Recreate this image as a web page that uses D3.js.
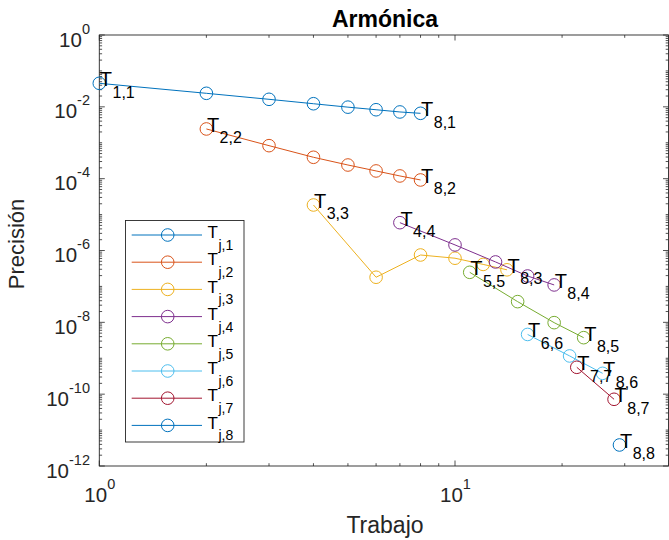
<!DOCTYPE html>
<html>
<head>
<meta charset="utf-8">
<script src="https://cdn.jsdelivr.net/npm/d3@7"></script>
<style>
  html, body { margin: 0; padding: 0; background: #fff; }
  svg { display: block; font-family: "Liberation Sans", Arial, Helvetica, sans-serif; }
</style>
</head>
<body>
<svg id="chart" width="669" height="540"></svg>
<script>
// ---- Data ----
const chartTitle = "Armónica";
const xLabel = "Trabajo";
const yLabel = "Precisión";

const work1 = [1, 2, 3, 4, 5, 6, 7, 8];
const prec1 = [4.52e-2, 2.38e-2, 1.62e-2, 1.22e-2, 9.8e-3, 8.3e-3, 7.2e-3, 6.6e-3];
const work2 = [2, 3, 4, 5, 6, 7, 8];
const prec2 = [2.42e-3, 8.3e-4, 3.94e-4, 2.40e-4, 1.64e-4, 1.19e-4, 9.2e-5];
const work3 = [4, 6, 8, 10, 12, 14];
const prec3 = [1.85e-5, 1.8e-7, 7.5e-7, 6.1e-7, 4.1e-7, 2.9e-7];
const work4 = [7, 10, 13, 16, 19];
const prec4 = [5.95e-6, 1.43e-6, 4.8e-7, 1.95e-7, 1.1e-7];
const work5 = [11, 15, 19, 23];
const prec5 = [2.47e-7, 3.77e-8, 9.8e-9, 3.74e-9];
const work6 = [16, 21, 26];
const prec6 = [4.6e-9, 1.16e-9, 3.8e-10];
const work7 = [22, 28];
const prec7 = [5.6e-10, 7.2e-11];
const work8 = [29];
const prec8 = [3.85e-12];

const seriesNames = ["j,1", "j,2", "j,3", "j,4", "j,5", "j,6", "j,7", "j,8"];
const colors = ["#0072BD", "#D95319", "#EDB120", "#7E2F8E", "#77AC30", "#4DBEEE", "#A2142F", "#0072BD"];
const yTickExps = [0, -2, -4, -6, -8, -10, -12];
const xTickExps = [0, 1];
const xDomain = [1, 40];
const yDomain = [1e-12, 1];

const works = [work1, work2, work3, work4, work5, work6, work7, work8];
const precs = [prec1, prec2, prec3, prec4, prec5, prec6, prec7, prec8];
const series = works.map((w, i) => ({
  k: i + 1,
  name: seriesNames[i],
  color: colors[i],
  pts: w.map((x, j) => ({ x: x, y: precs[i][j] }))
}));

// ---- Layout ----
const L = 99.3, R = 668.5, T = 35, B = 466;
const svg = d3.select("#chart");
const x = d3.scaleLog().domain(xDomain).range([L, L + Math.log10(40) * 355.7]);
const y = d3.scaleLog().domain(yDomain).range([B, T]);
const axisColor = "#262626";

svg.append("rect").attr("width", 669).attr("height", 540).attr("fill", "#fff");

// ---- ticks ----
const majLen = 5.5, minLen = 2.8;
const xMinor = [];
for (let d = 0; d <= 1; d++) for (let k = 2; k <= 9; k++) { const v = k * Math.pow(10, d); if (v <= 40) xMinor.push(v); }
const yMinor = [];
for (let d = -12; d < 0; d++) {
  for (let k = 1; k <= 9; k++) {
    const v = k * Math.pow(10, d);
    if (k === 1 && d % 2 === 0) continue;
    yMinor.push(v);
  }
}
const tg = svg.append("g").attr("stroke", axisColor).attr("stroke-width", 0.8);
function xTick(v, len) {
  const px = x(v);
  tg.append("line").attr("x1", px).attr("x2", px).attr("y1", B).attr("y2", B - len);
  tg.append("line").attr("x1", px).attr("x2", px).attr("y1", T).attr("y2", T + len);
}
function yTick(v, len) {
  const py = y(v);
  tg.append("line").attr("x1", L).attr("x2", L + len).attr("y1", py).attr("y2", py);
  tg.append("line").attr("x1", R).attr("x2", R - len).attr("y1", py).attr("y2", py);
}
xTickExps.forEach(e => xTick(Math.pow(10, e), majLen));
xMinor.forEach(v => xTick(v, minLen));
yTickExps.forEach(e => yTick(Math.pow(10, e), majLen));
yMinor.forEach(v => yTick(v, minLen));

svg.append("rect").attr("x", L).attr("y", T).attr("width", R - L).attr("height", B - T)
  .attr("fill", "none").attr("stroke", axisColor).attr("stroke-width", 0.9);

// ---- tick labels ----
yTickExps.forEach(e => {
  const t = svg.append("text").attr("x", 90).attr("y", y(Math.pow(10, e)) + 11.5)
    .attr("text-anchor", "end").attr("fill", axisColor).attr("font-size", 20.5);
  t.append("tspan").text("10");
  t.append("tspan").attr("dy", -13).attr("font-size", 14.5).text(String(e));
});
xTickExps.forEach(e => {
  const t = svg.append("text").attr("x", x(Math.pow(10, e)) + 0.5).attr("y", 502)
    .attr("text-anchor", "middle").attr("fill", axisColor).attr("font-size", 20.5);
  t.append("tspan").text("10");
  t.append("tspan").attr("dy", -13).attr("font-size", 14.5).text(String(e));
});

// ---- axis labels & title ----
svg.append("text").attr("x", 385).attr("y", 533).attr("text-anchor", "middle")
  .attr("font-size", 23).attr("fill", axisColor).text(xLabel);
svg.append("text").attr("transform", "translate(24,244) rotate(-90)").attr("text-anchor", "middle")
  .attr("font-size", 22).attr("fill", axisColor).text(yLabel);
svg.append("text").attr("x", 385).attr("y", 27).attr("text-anchor", "middle")
  .attr("font-size", 23).attr("font-weight", "bold").attr("fill", "#000").text(chartTitle);

// ---- series ----
const line = d3.line().x(d => x(d.x)).y(d => y(d.y));
const plot = svg.append("g");
series.forEach(s => {
  plot.append("path").datum(s.pts).attr("d", line)
    .attr("fill", "none").attr("stroke", s.color).attr("stroke-width", 1);
  plot.selectAll(null).data(s.pts).enter().append("circle")
    .attr("cx", d => x(d.x)).attr("cy", d => y(d.y)).attr("r", 6.3)
    .attr("fill", "none").attr("stroke", s.color).attr("stroke-width", 1);
});

// ---- point labels T_{i,j} ----
function tLabel(g, px, py, sub, fs, sfs, dyT, dyS) {
  const t = g.append("text").attr("x", px).attr("y", py + dyT).attr("fill", "#000").attr("font-size", fs);
  t.append("tspan").text("T");
  t.append("tspan").attr("dy", dyS - dyT).attr("dx", 0.5).attr("font-size", sfs).text(sub);
}
const lab = svg.append("g");
series.forEach(s => {
  const first = s.pts[0], last = s.pts[s.pts.length - 1];
  tLabel(lab, x(first.x) + 0.5, y(first.y), s.k + "," + s.k, 20, 16, 3, 14.5);
  if (s.pts.length > 1) tLabel(lab, x(last.x) + 0.5, y(last.y), "8," + s.k, 20, 16, 3, 14.5);
});

// ---- legend ----
const lg = svg.append("g");
lg.append("rect").attr("x", 125.5).attr("y", 220.5).attr("width", 118.5).attr("height", 221.5)
  .attr("fill", "#fff").attr("stroke", axisColor).attr("stroke-width", 0.9);
series.forEach((s, i) => {
  const cy = 235 + i * 27.2;
  lg.append("line").attr("x1", 131.7).attr("x2", 202).attr("y1", cy).attr("y2", cy)
    .attr("stroke", s.color).attr("stroke-width", 1);
  lg.append("circle").attr("cx", 167.7).attr("cy", cy).attr("r", 6.3)
    .attr("fill", "none").attr("stroke", s.color).attr("stroke-width", 1);
  tLabel(lg, 207.5, cy, s.name, 17, 14, 3.2, 15);
});
</script>
</body>
</html>
